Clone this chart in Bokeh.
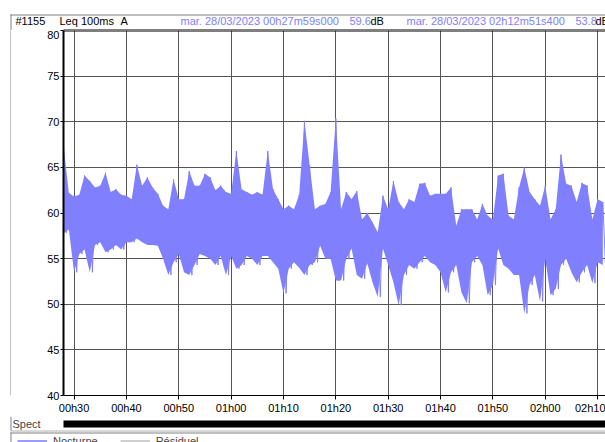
from bokeh.plotting import figure
from bokeh.models import FixedTicker, Label, Legend, LegendItem, Range1d, Span
from bokeh.layouts import column, row
from bokeh.embed import file_html
from bokeh.resources import INLINE

# ---- data (minutes after midnight, dB) ----
t_start = 27.98   # 00h27m59s
t_end = 132.86    # 02h12m51s
minutes = list(range(28, 132))
hi = [67.3, 62.2, 61.8, 62.0, 64.1, 63.5, 62.8, 63.0, 64.4, 62.3,
      62.6, 62.0, 61.9, 61.5, 65.3, 63.0, 63.9, 62.8, 62.1, 60.8,
      60.4, 63.7, 61.5, 61.5, 64.6, 63.0, 63.0, 64.3, 63.9, 62.5,
      63.0, 62.3, 62.1, 66.8, 62.6, 62.3, 62.0, 62.3, 62.0, 66.8,
      62.6, 61.5, 60.4, 60.8, 60.4, 62.0, 70.1, 65.2, 60.4, 60.8,
      61.0, 62.3, 70.4, 60.4, 62.3, 61.5, 62.4, 59.3, 60.0, 59.0,
      57.9, 61.9, 60.4, 63.5, 61.2, 60.4, 61.5, 61.2, 63.2, 63.3,
      61.9, 62.1, 62.1, 62.1, 62.8, 58.6, 60.4, 60.4, 60.4, 59.3,
      61.0, 59.7, 59.3, 64.1, 64.3, 59.7, 59.3, 62.8, 65.0, 62.3,
      61.5, 60.8, 63.0, 59.3, 60.4, 66.4, 63.2, 63.0, 61.2, 63.3,
      63.0, 59.3, 61.5, 61.2]
lo = [57.8, 58.2, 53.5, 55.5, 56.0, 53.5, 56.5, 56.8, 55.7, 56.0,
      56.5, 56.0, 56.8, 56.8, 57.2, 56.8, 56.5, 56.5, 56.4, 55.0,
      53.2, 54.6, 55.5, 53.5, 53.2, 54.3, 55.5, 55.3, 55.0, 54.3,
      55.3, 53.2, 55.3, 53.9, 54.3, 55.3, 55.0, 54.3, 55.3, 55.3,
      54.6, 53.9, 51.2, 53.9, 54.6, 54.0, 53.2, 54.3, 54.6, 56.4,
      55.0, 55.0, 52.6, 52.6, 55.0, 56.1, 53.2, 52.8, 54.5, 52.4,
      50.8, 56.1, 54.3, 52.4, 49.9, 53.2, 54.3, 53.9, 54.6, 55.3,
      54.6, 54.3, 53.5, 51.3, 53.5, 54.3, 51.3, 50.1, 54.6, 55.3,
      54.3, 51.0, 52.1, 56.1, 54.3, 53.9, 53.2, 53.2, 49.0, 52.1,
      53.2, 50.3, 55.0, 51.0, 51.7, 54.3, 55.0, 53.5, 52.4, 53.5,
      54.3, 52.3, 54.6, 54.3]
x_ticks = [30, 40, 50, 60, 70, 80, 90, 100, 110, 120, 130]
x_tick_labels = ["00h30", "00h40", "00h50", "01h00", "01h10", "01h20",
                 "01h30", "01h40", "01h50", "02h00", "02h10"]
y_ticks = [40, 45, 50, 55, 60, 65, 70, 75, 80]
header = [("#1155", "black"), ("Leq 100ms", "black"), ("A", "black"),
          ("mar. 28/03/2023 00h27m59s000", "blue"), ("59.6", "blue"), ("dB", "black"),
          ("mar. 28/03/2023 02h12m51s400", "blue"), ("53.8", "blue"), ("dB", "black")]
header_x = [15, 59, 120, 180, 349, 370, 406, 575, 595]

BLUE = "#8080ff"
GRAY = "#808080"
FONT = "Liberation Sans"
W = 605
FRAME_W = 542
SPAN_MIN = 103.53
MPP = SPAN_MIN / FRAME_W  # minutes per pixel


def bare(width, height, xr, yr):
    f = figure(width=width, height=height, output_backend="svg", toolbar_location=None,
               x_range=xr, y_range=yr, min_border=0, outline_line_color=None,
               background_fill_color="white", border_fill_color="white")
    f.axis.visible = False
    f.grid.visible = False
    return f


# ---- header strip ----
hd = bare(W, 30, Range1d(0, W), Range1d(30, 0))
hd.segment(x0=[10, 10.5, 63], y0=[14.5, 14, 29.5], x1=[W, 10.5, W], y1=[14.5, 30, 29.5],
           line_color=[GRAY, GRAY, "black"], line_width=1)
for (s, c), x in zip(header, header_x):
    hd.add_layout(Label(x=x, y=10, x_units="screen", y_units="screen", text=s,
                        text_font=FONT, text_font_size="11px",
                        text_color=BLUE if c == "blue" else "black",
                        text_baseline="alphabetic"))

# ---- left gray strip ----
MAIN_H = 386
st = bare(11, MAIN_H, Range1d(0, 11), Range1d(MAIN_H, 0))
st.segment(x0=[10.5], y0=[0], x1=[10.5], y1=[MAIN_H], line_color=GRAY, line_width=1)

# ---- main chart ----
p = figure(width=W - 11, height=MAIN_H, output_backend="svg", toolbar_location=None,
           x_range=Range1d(t_start, t_start + SPAN_MIN), y_range=Range1d(40, 80),
           min_border_left=52, min_border_top=0, min_border_bottom=19,
           min_border_right=0, background_fill_color="white",
           border_fill_color="white", outline_line_color=None)
p.varea(x=minutes, y1=lo, y2=hi, fill_color=BLUE, fill_alpha=1)
zx, zy = [], []
for t, h, l in zip(minutes, hi, lo):
    zx += [t, t + 0.5]
    zy += [h, l]
p.line(zx, zy, line_color=BLUE, line_width=1)

for ax in (p.xaxis[0], p.yaxis[0]):
    ax.major_label_text_font = FONT
    ax.major_label_text_font_size = "11px"
    ax.major_label_text_color = "black"
    ax.axis_line_color = "black"
    ax.major_tick_line_color = "black"
    ax.minor_tick_line_color = None
    ax.major_tick_in = 0
p.xaxis.ticker = FixedTicker(ticks=x_ticks)
p.xaxis.major_label_overrides = {t: s for t, s in zip(x_ticks, x_tick_labels)}
p.xaxis.major_tick_out = 4
p.xaxis.major_label_standoff = 2
p.yaxis.ticker = FixedTicker(ticks=y_ticks)
p.yaxis.major_tick_out = 3
p.yaxis.major_label_standoff = 1
p.yaxis.axis_line_width = 2
p.xgrid.ticker = FixedTicker(ticks=x_ticks)
p.ygrid.ticker = FixedTicker(ticks=y_ticks)
p.grid.grid_line_color = "#555555"
p.grid.grid_line_width = 1
p.add_layout(Span(location=80, dimension="width", line_color="black", line_width=2))

# ---- bottom strip: Spect bar + legend ----
BOT_H = 442 - 30 - MAIN_H
bt = bare(W, BOT_H, Range1d(0, W), Range1d(BOT_H, 0))
bt.extra_x_ranges = {"time": Range1d(t_start - 63 * MPP, t_start + (W - 63) * MPP)}
top_y = 416
bt.quad(left=[t_start], right=[t_end], top=[420 - top_y], bottom=[427 - top_y],
        x_range_name="time", fill_color="black", line_color=None)
bt.segment(x0=[10.5, 10, 10, 10.5], y0=[0, 430.5 - top_y, 432.5 - top_y, 432 - top_y],
           x1=[10.5, W, W, 10.5], y1=[430 - top_y, 430.5 - top_y, 432.5 - top_y, BOT_H],
           line_color=[GRAY, "#b0b0b0", GRAY, GRAY], line_width=1)
bt.add_layout(Label(x=12, y=BOT_H - (428 - top_y) + 5, x_units="screen", y_units="screen",
                    text="Spect", text_font=FONT, text_font_size="11px",
                    text_baseline="alphabetic"))
# legend proxies: kept off-screen (below the strip's visible range)
r_noct = bt.line([0, 1], [100, 100], line_color="#9a9aff", line_width=2)
r_res = bt.line([0, 1], [100, 100], line_color="#cfcfcf", line_width=2)
legend = Legend(items=[LegendItem(label="Nocturne", renderers=[r_noct]),
                       LegendItem(label="Résiduel", renderers=[r_res])],
                orientation="horizontal", location=(17, BOT_H - (444 - top_y) - 3),
                label_text_font=FONT, label_text_font_size="11px",
                glyph_width=30, glyph_height=13, label_height=13,
                label_standoff=6, spacing=22, padding=0, margin=0,
                border_line_color=None, background_fill_alpha=0)
bt.add_layout(legend, "center")

page = column(hd, row(st, p, spacing=0), bt, spacing=0)
open("out.html", "w").write(file_html(page, INLINE))
